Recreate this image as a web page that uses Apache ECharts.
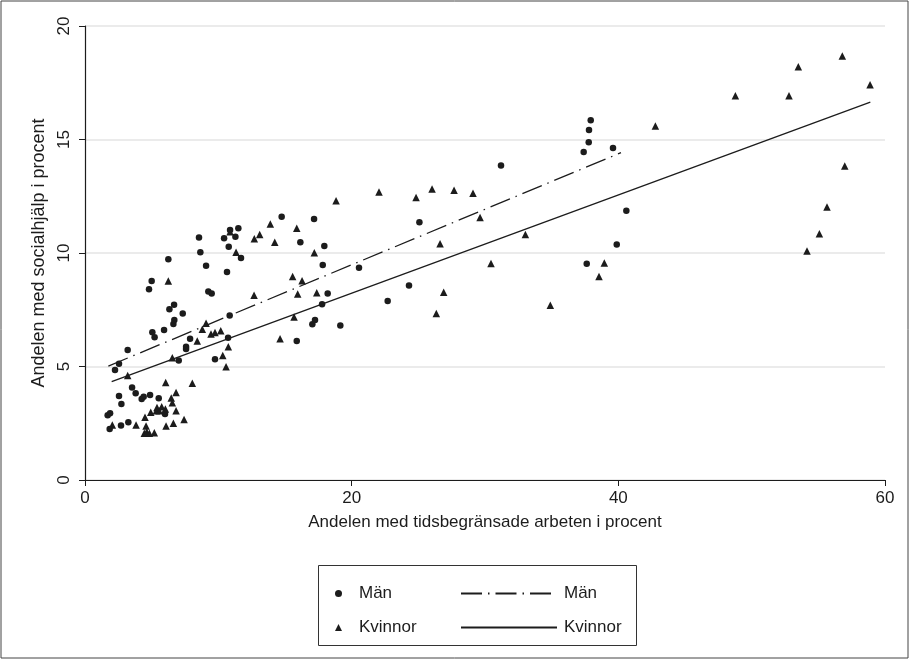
<!DOCTYPE html>
<html>
<head>
<meta charset="utf-8">
<script src="https://cdn.jsdelivr.net/npm/echarts@6/dist/echarts.min.js"></script>
<style>
  html, body { margin: 0; padding: 0; background: #fff; }
  #chart { width: 910px; height: 660px; }
</style>
</head>
<body>
<div id="chart"></div>
<script>
// data: [tidsbegränsade %, socialhjälp %]
var manPoints = [
  [1.7, 2.85], [1.88, 2.94], [1.85, 2.25], [2.25, 4.85], [2.55, 5.12], [2.55, 3.7],
  [2.73, 3.35], [2.7, 2.4], [3.2, 5.73], [3.25, 2.54], [3.53, 4.08], [3.8, 3.82],
  [4.25, 3.57], [4.4, 3.67], [4.88, 3.74], [4.8, 8.4], [5.0, 8.77], [5.05, 6.51],
  [5.22, 6.29], [5.53, 3.6], [5.93, 6.61], [6.0, 2.91], [6.25, 9.72], [6.33, 7.52],
  [6.63, 6.87], [6.7, 7.05], [6.68, 7.72], [7.03, 5.26], [7.33, 7.34], [7.58, 5.87],
  [7.58, 5.77], [7.88, 6.22], [8.55, 10.68], [8.65, 10.03], [9.08, 9.44], [9.25, 8.3],
  [9.5, 8.22], [9.75, 5.32], [10.43, 10.65], [10.65, 9.16], [10.73, 6.27], [10.78, 10.28],
  [10.85, 7.25], [10.88, 11.01], [11.28, 10.72], [11.5, 11.09], [11.7, 9.78], [14.75, 11.6],
  [15.88, 6.12], [16.15, 10.47], [17.05, 6.86], [17.18, 11.5], [17.25, 7.05], [17.78, 7.74],
  [17.83, 9.47], [17.95, 10.31], [18.2, 8.22], [19.15, 6.81], [20.55, 9.35], [22.7, 7.89],
  [24.3, 8.57], [25.08, 11.35], [31.2, 13.85], [37.4, 14.45], [37.63, 9.53], [37.78, 14.88],
  [37.8, 15.42], [37.93, 15.85], [39.6, 14.63], [39.88, 10.37], [40.6, 11.86]
];

var kvinnorPoints = [
  [2.05, 2.42], [3.2, 4.6], [3.83, 2.42], [4.45, 2.06], [4.5, 2.76], [4.58, 2.38],
  [4.63, 2.13], [4.83, 2.06], [4.93, 2.98], [5.2, 2.08], [5.35, 3.05], [5.4, 3.19],
  [5.57, 3.05], [5.75, 3.23], [6.03, 3.13], [6.05, 4.29], [6.08, 2.38], [6.25, 8.77],
  [6.47, 3.61], [6.55, 3.4], [6.55, 5.39], [6.63, 2.5], [6.83, 3.85], [6.83, 3.05],
  [7.43, 2.67], [8.05, 4.26], [8.42, 6.12], [8.8, 6.64], [9.08, 6.9], [9.45, 6.43],
  [9.75, 6.5], [10.18, 6.58], [10.33, 5.48], [10.58, 4.99], [10.75, 5.87], [10.88, 10.94],
  [11.33, 10.03], [12.68, 8.14], [12.7, 10.63], [13.1, 10.81], [13.9, 11.28], [14.23, 10.47],
  [14.63, 6.22], [15.57, 8.96], [15.68, 7.18], [15.88, 11.09], [15.95, 8.19], [16.28, 8.78],
  [17.2, 10.01], [17.38, 8.25], [18.83, 12.3], [22.05, 12.69], [24.83, 12.44], [26.03, 12.82],
  [26.35, 7.34], [26.63, 10.41], [26.9, 8.27], [27.68, 12.76], [29.1, 12.63], [29.63, 11.56],
  [30.45, 9.54], [33.03, 10.82], [34.9, 7.7], [38.55, 8.96], [38.95, 9.56], [42.78, 15.6],
  [48.78, 16.93], [52.8, 16.93], [53.5, 18.2], [54.15, 10.09], [55.08, 10.85], [55.65, 12.03],
  [56.8, 18.68], [56.98, 13.83], [58.88, 17.41]
];

// fitted lines, end points as drawn
var manFit = [[1.75, 5.02], [40.2, 14.42]];
var kvinnorFit = [[2.0, 4.33], [58.9, 16.65]];

var xTicks = [0, 20, 40, 60];
var yTicks = [0, 5, 10, 15, 20];

var xTitle = 'Andelen med tidsbegränsade arbeten i procent';
var yTitle = 'Andelen med socialhjälp i procent';

var legendNames = {
  'Män': 'Män',
  'Kvinnor': 'Kvinnor',
  'Män fit': 'Män',
  'Kvinnor fit': 'Kvinnor'
};

var chart = echarts.init(document.getElementById('chart'));

var ink = '#1c1c1c';
var font = 'Liberation Sans, Arial, Helvetica, sans-serif';

var option = {
  backgroundColor: '#fff',
  animation: false,
  textStyle: { fontFamily: font, color: ink },
  grid: { left: 85, right: 25, top: 26, bottom: 180, containLabel: false },
  graphic: [
    {
      type: 'rect',
      shape: { x: 1, y: 1, width: 907, height: 657 },
      style: { fill: 'none', stroke: '#444', lineWidth: 1 },
      silent: true
    },
    {
      type: 'rect',
      shape: { x: 318.5, y: 565.5, width: 318, height: 80 },
      style: { fill: 'none', stroke: '#333', lineWidth: 1 },
      silent: true
    }
  ],
  legend: [
    {
      orient: 'vertical',
      left: 330,
      top: 580,
      itemWidth: 7,
      itemHeight: 7,
      itemGap: 17,
      selectedMode: false,
      formatter: function (name) { return legendNames[name]; },
      textStyle: { fontSize: 17, color: ink, fontFamily: font, padding: [0, 0, 0, 12] },
      data: [
        { name: 'Män', icon: 'circle' },
        { name: 'Kvinnor', icon: 'triangle' }
      ]
    },
    {
      orient: 'vertical',
      left: 455,
      top: 580,
      itemWidth: 96,
      itemHeight: 7,
      itemGap: 17,
      selectedMode: false,
      formatter: function (name) { return legendNames[name]; },
      itemStyle: { opacity: 0 },
      textStyle: { fontSize: 17, color: ink, fontFamily: font, padding: [0, 0, 0, 2] },
      data: ['Män fit', 'Kvinnor fit']
    }
  ],
  xAxis: {
    type: 'value',
    min: xTicks[0],
    max: xTicks[xTicks.length - 1],
    interval: 20,
    name: xTitle,
    nameLocation: 'middle',
    nameGap: 34,
    nameTextStyle: { fontSize: 17, color: ink, fontFamily: font },
    axisLine: { show: true, lineStyle: { color: ink, width: 1.2 } },
    axisTick: { show: true, length: 6, lineStyle: { color: ink } },
    axisLabel: { fontSize: 17, color: ink, margin: 10, fontFamily: font },
    splitLine: { show: false }
  },
  yAxis: {
    type: 'value',
    min: yTicks[0],
    max: yTicks[yTicks.length - 1],
    interval: 5,
    name: yTitle,
    nameLocation: 'middle',
    nameGap: 36,
    nameRotate: 90,
    nameTextStyle: { fontSize: 18, color: ink, fontFamily: font },
    axisLine: { show: true, lineStyle: { color: ink, width: 1.2 } },
    axisTick: { show: true, length: 6, lineStyle: { color: ink } },
    axisLabel: { fontSize: 17, color: ink, margin: 12, rotate: 90, fontFamily: font },
    splitLine: { show: true, lineStyle: { color: '#ebebeb', width: 2 } }
  },
  series: [
    {
      name: 'Män fit',
      type: 'line',
      data: manFit,
      symbol: 'none',
      silent: true,
      lineStyle: { color: ink, width: 1.3, type: [21, 6, 1.5, 6] },
      itemStyle: { color: ink },
      z: 3
    },
    {
      name: 'Kvinnor fit',
      type: 'line',
      data: kvinnorFit,
      symbol: 'none',
      silent: true,
      lineStyle: { color: ink, width: 1.3, type: 'solid' },
      itemStyle: { color: ink },
      z: 3
    },
    {
      name: 'Män',
      type: 'scatter',
      data: manPoints,
      symbol: 'circle',
      symbolSize: 6.5,
      itemStyle: { color: ink, opacity: 1 },
      z: 4
    },
    {
      name: 'Kvinnor',
      type: 'scatter',
      data: kvinnorPoints,
      symbol: 'triangle',
      symbolSize: 7.5,
      itemStyle: { color: ink, opacity: 1 },
      z: 4
    }
  ]
};

chart.setOption(option);
</script>
</body>
</html>
